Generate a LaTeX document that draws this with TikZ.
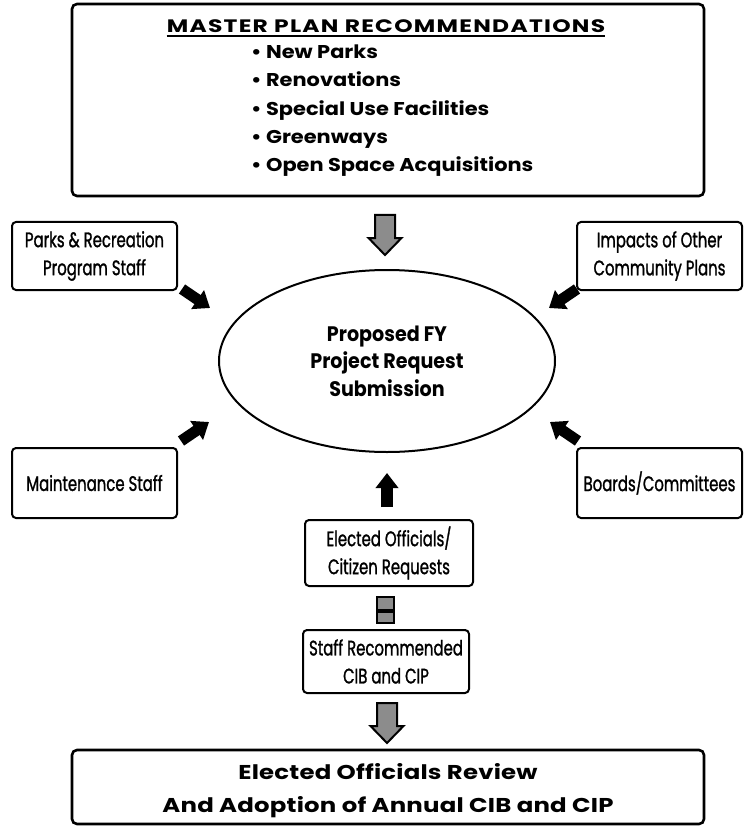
\documentclass[tikz,border=0pt]{standalone}
\usepackage{fontspec}
\setmainfont{Poppins}
\newfontfamily\condfont{Poppins}[FakeStretch=0.71,FakeBold=1.2]
\newfontfamily\ovalfont{Poppins}[FakeStretch=0.91]
\newfontfamily\listfont{Poppins}[FakeStretch=1.13]
\newfontfamily\titlefont{Poppins}[FakeStretch=1.3,LetterSpace=7]
\newfontfamily\widefont{Poppins}[FakeStretch=1.22,LetterSpace=1]
\usetikzlibrary{arrows.meta,shapes.geometric}

\tikzset{
  bigbox/.style={draw=black,line width=2.6pt,rounded corners=5pt,inner sep=0pt},
  smallbox/.style={draw=black,line width=2pt,rounded corners=4pt,inner sep=0pt,
    minimum width=165,minimum height=68,align=center,
    font=\condfont\fontsize{21}{28}\selectfont},
  listitem/.style={anchor=base west,inner sep=0pt,font=\listfont\bfseries\fontsize{18.5}{20}\selectfont},
  grayarrow/.style={fill=black!45,draw=black,line width=2pt},
  blackarrow/.style={line width=11pt,-{Triangle[width=22pt,length=15pt]}},
  pics/blockdown/.style={code={
    \filldraw[grayarrow] (-10,0) -- (10,0) -- (10,23) -- (16.5,23) -- (0,40)
      -- (-16.5,23) -- (-10,23) -- cycle;}}
}

\begin{document}
\begin{tikzpicture}[x=1pt,y=-1pt]
  \useasboundingbox (0,0) rectangle (744,826);

  % Master plan box
  \node[bigbox,minimum width=632,minimum height=192] (master) at (388,100) {};
  \node[inner sep=0pt,font=\titlefont\bfseries\fontsize{18}{20}\selectfont] (mtitle) at (386,26)
    {MASTER PLAN RECOMMENDATIONS};
  \draw[line width=1.8pt] ([yshift=-3.5pt]mtitle.base west) -- ([yshift=-3.5pt]mtitle.base east);
  \foreach \t [count=\i] in {New Parks,Renovations,Special Use Facilities,Greenways,Open Space Acquisitions}
    \node[listitem] (item\i) at (251,30.2+28.3*\i) {\textbullet\ \t};

  % Proposal
  \node[ellipse,draw=black,line width=2pt,minimum width=336,minimum height=182,
    align=center,font=\ovalfont\bfseries\fontsize{21}{27.5}\selectfont] (proposal) at (387,361)
    {Proposed FY\\Project Request\\Submission};

  % Side inputs
  \node[smallbox] (parks) at (94.5,256) {Parks \& Recreation\\Program Staff};
  \node[smallbox] (impacts) at (659.5,256) {Impacts of Other\\Community Plans};
  \node[smallbox,minimum height=70] (maint) at (94.5,483) {Maintenance Staff};
  \node[smallbox,minimum height=70] (boards) at (659.5,483) {Boards/Committees};

  % Lower chain
  \node[smallbox,minimum width=168,minimum height=66] (elected) at (389,553)
    {Elected Officials/\\Citizen Requests};
  \node[smallbox,minimum width=166,minimum height=63] (staffrec) at (386,661.5)
    {Staff Recommended\\CIB and CIP};
  \node[bigbox,minimum width=632,minimum height=74] (review) at (388,787) {};
  \node[align=center,inner sep=0pt,font=\widefont\bfseries\fontsize{20}{33}\selectfont]
    (reviewtext) at (388,791)
    {Elected Officials Review\\And Adoption of Annual CIB and CIP};

  % Gray block arrows
  \pic at (385,215) {blockdown};
  \pic at (387,703) {blockdown};
  \filldraw[grayarrow,line width=1.5pt] (377,597) rectangle (394,610);
  \filldraw[grayarrow,line width=1.5pt] (377,612) rectangle (394,623);

  % Black arrows
  \coordinate (pkA) at (182,289);  \coordinate (pkB) at (210,308);
  \coordinate (imA) at (577,289);  \coordinate (imB) at (549,308);
  \coordinate (maA) at (181,441);  \coordinate (maB) at (209,422);
  \coordinate (boA) at (578,441);  \coordinate (boB) at (550,422);
  \coordinate (elA) at (387,507);  \coordinate (elB) at (387,473);
  \draw[blackarrow] (pkA) -- (pkB);
  \draw[blackarrow] (imA) -- (imB);
  \draw[blackarrow] (maA) -- (maB);
  \draw[blackarrow] (boA) -- (boB);
  \draw[blackarrow,line width=12pt] (elA) -- (elB);
\end{tikzpicture}
\end{document}
